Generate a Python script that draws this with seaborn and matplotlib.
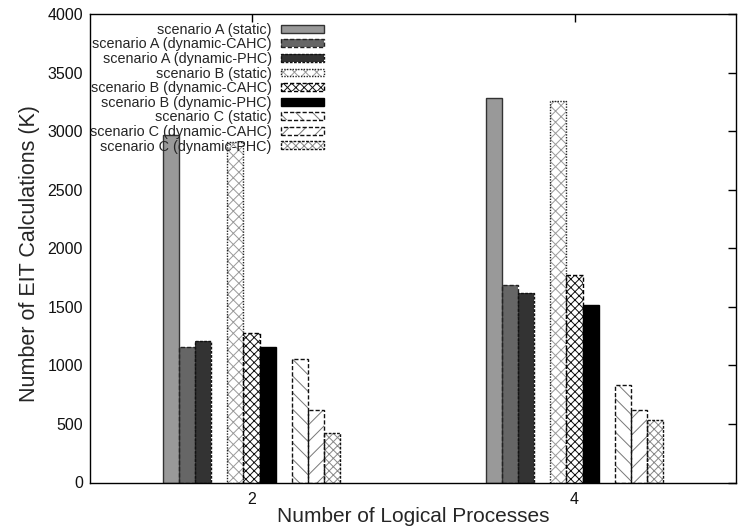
import matplotlib
matplotlib.use("Agg")
import matplotlib.pyplot as plt
from matplotlib.patches import Patch
import seaborn as sns
import pandas as pd

# ---- data ----
groups = ["2", "4"]
series = [
    "scenario A (static)",
    "scenario A (dynamic-CAHC)",
    "scenario A (dynamic-PHC)",
    "scenario B (static)",
    "scenario B (dynamic-CAHC)",
    "scenario B (dynamic-PHC)",
    "scenario C (static)",
    "scenario C (dynamic-CAHC)",
    "scenario C (dynamic-PHC)",
]
a_static = [2970, 3280]
a_cahc = [1160, 1685]
a_phc = [1210, 1620]
b_static = [2910, 3260]
b_cahc = [1280, 1775]
b_phc = [1160, 1515]
c_static = [1055, 835]
c_cahc = [620, 615]
c_phc = [420, 535]
yticks = [0, 500, 1000, 1500, 2000, 2500, 3000, 3500, 4000]

all_values = [a_static, a_cahc, a_phc, b_static, b_cahc, b_phc, c_static, c_cahc, c_phc]

# ---- styles ----
faces = ["#999999", "#666666", "#333333", "white", "white", "black", "white", "white", "white"]
hatches = [None, None, None, "xxx", "xxxx", None, "\\\\", "//", "xxxx"]
hatch_cols = ["#999999", "#666666", "#333333", "#9a9a9a", "#111111", "black", "#777777", "#777777", "#888888"]
outline_cols = ["#333333", "#222222", "#111111", "#222222", "#000000", "#000000", "#111111", "#111111", "#111111"]
outline_ls = ["-", (0, (3, 1.5)), (0, (2, 1)), (0, (1, 1)), (0, (3, 1.5)), "-", (0, (3, 1.5)), (0, (3, 1.5)), (0, (2, 1))]

GROUP_STEP = 20
rows = []
for g, grp in enumerate(groups):
    for s, name in enumerate(series):
        slot = s + s // 3
        rows.append({"group": grp, "series": name, "value": all_values[s][g],
                     "pos": g * GROUP_STEP + slot - 5})
df = pd.DataFrame(rows)

sns.set_theme(style="white")
plt.rcParams["font.family"] = ["Liberation Sans", "DejaVu Sans"]
plt.rcParams["hatch.linewidth"] = 0.7

fig = plt.figure(figsize=(7.39, 5.32), dpi=100)
ax = fig.add_axes([90 / 739, 1 - 482.5 / 532, 646 / 739, 468.5 / 532])

palette = dict(zip(series, faces))

# layer 1: fills + hatches
sns.barplot(data=df, x="pos", y="value", hue="series", hue_order=series,
            palette=palette, native_scale=True, dodge=False, width=1.0,
            errorbar=None, legend=False, ax=ax)
n_fill = len(ax.containers)
for i, cont in enumerate(ax.containers):
    for p in cont:
        p.set_facecolor(faces[i])
        p.set_edgecolor(hatch_cols[i])
        p.set_linewidth(0)
        if hatches[i]:
            p.set_hatch(hatches[i])

# layer 2: outlines
sns.barplot(data=df, x="pos", y="value", hue="series", hue_order=series,
            palette=palette, native_scale=True, dodge=False, width=1.0,
            errorbar=None, legend=False, fill=False, ax=ax)
for i, cont in enumerate(ax.containers[n_fill:]):
    for p in cont:
        p.set_facecolor("none")
        p.set_edgecolor(outline_cols[i])
        p.set_linestyle(outline_ls[i])
        p.set_linewidth(1.0)

ax.set_xlim(-10, 30)
ax.set_ylim(0, 4000)
ax.set_xticks([g * GROUP_STEP for g in range(len(groups))])
ax.set_xticklabels(groups)
ax.set_yticks(yticks)
ax.set_yticklabels([str(v) for v in yticks])
ax.tick_params(axis="both", direction="in", length=6, width=1, color="black",
               top=True, right=True, labelsize=11.5, labelcolor="#111111")
ax.tick_params(axis="x", pad=7)
ax.tick_params(axis="y", pad=5)
for sp in ax.spines.values():
    sp.set_visible(True)
    sp.set_color("black")
    sp.set_linewidth(1.0)

ax.set_xlabel("Number of Logical Processes", fontsize=15, labelpad=0)
ax.set_ylabel("Number of EIT Calculations (K)", fontsize=15.5)
ax.yaxis.set_label_coords(-0.0774, 0.488)

handles = []
for i in range(len(series)):
    h1 = Patch(facecolor=faces[i], edgecolor=hatch_cols[i], hatch=hatches[i], linewidth=0)
    h2 = Patch(facecolor="none", edgecolor=outline_cols[i], linestyle=outline_ls[i], linewidth=1.0)
    handles.append((h1, h2))
ax.legend(handles, series, loc="upper left", bbox_to_anchor=(0.0, 0.981),
          frameon=False, markerfirst=False, fontsize=10.4, handlelength=3.0,
          handleheight=0.45, handletextpad=0.6, labelspacing=0.04,
          borderpad=0.0, borderaxespad=0.0)

fig.savefig("out.png", dpi=100)
